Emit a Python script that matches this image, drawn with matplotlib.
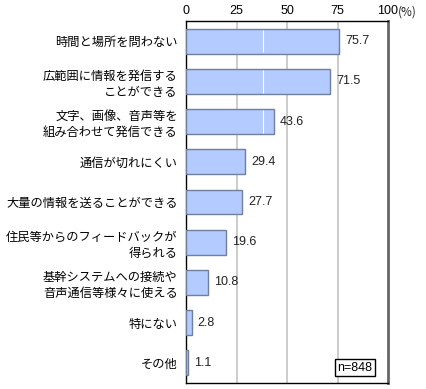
import matplotlib
matplotlib.use("Agg")
import matplotlib.pyplot as plt

plt.rcParams['font.family'] = ['Noto Sans CJK JP', 'DejaVu Sans']

labels = ['時間と場所を問わない',
          '広範囲に情報を発信する\nことができる',
          '文字、画像、音声等を\n組み合わせて発信できる',
          '通信が切れにくい',
          '大量の情報を送ることができる',
          '住民等からのフィードバックが\n得られる',
          '基幹システムへの接続や\n音声通信等様々に使える',
          '特にない',
          'その他']
values = [75.7, 71.5, 43.6, 29.4, 27.7, 19.6, 10.8, 2.8, 1.1]
ticks = [0, 25, 50, 75, 100]
tick_labels = ['0', '25', '50', '75', '100']
sample = 'n=848'

latin = ['Liberation Sans', 'DejaVu Sans']
bar_h = 0.62

fig = plt.figure(figsize=(4.26, 3.89), dpi=100)
ax = fig.add_axes([186/426, 1-383/389, 202/426, 362/389])

pos = list(range(len(values)))
ax.barh(pos, values, height=bar_h, color='#b3cbff', edgecolor='#6f7f9c',
        linewidth=1.0, zorder=3)
# faint white line seen inside the long bars
for p, v in zip(pos, values):
    if v > 38:
        ax.vlines(38, p - bar_h/2 + 0.03, p + bar_h/2 - 0.03,
                  color='white', linewidth=0.8, zorder=4)

for v in [25, 50, 75]:
    ax.axvline(v, color='#c8c8c8', linewidth=1.3, zorder=1)

for p, v in zip(pos, values):
    ax.text(v + 3, p, f'{v:.1f}', va='center', ha='left', fontsize=9,
            family=latin, color='#222222')

ax.set_xlim(0, 100)
ax.set_ylim(len(values) - 0.5, -0.5)
ax.set_yticks(pos)
ax.set_yticklabels(labels, fontsize=8.8, linespacing=1.3)
ax.tick_params(axis='y', length=0, pad=6)
ax.xaxis.tick_top()
ax.set_xticks(ticks)
ax.set_xticklabels(tick_labels, fontsize=9, family=latin)
ax.tick_params(axis='x', length=0, pad=3)
ax.text(1.05, 1.008, '(%)', transform=ax.transAxes, ha='left', va='bottom',
        fontsize=8.5, color='#222222')

for s in ['left', 'top', 'bottom']:
    ax.spines[s].set_color('black')
    ax.spines[s].set_linewidth(1.0)
ax.spines['right'].set_color('#666666')
ax.spines['right'].set_linewidth(2.0)

ax.text(83.5, 8.12, sample, ha='center', va='center', fontsize=9,
        family=latin, zorder=5,
        bbox=dict(boxstyle='square,pad=0.2', facecolor='white',
                  edgecolor='black', linewidth=1.0))

fig.savefig('out.png', dpi=100)
